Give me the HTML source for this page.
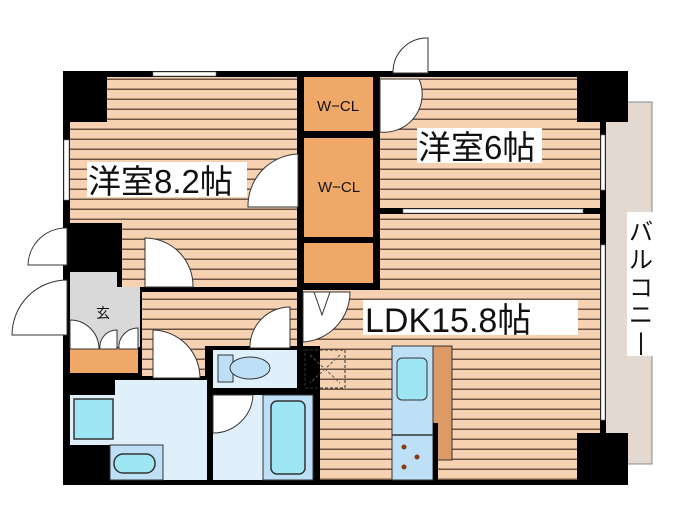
<!DOCTYPE html>
<html><head><meta charset="utf-8"><style>
body{margin:0;background:#fff;width:700px;height:525px;overflow:hidden}
svg{display:block}
text{font-family:"Liberation Sans","Noto Sans CJK JP",sans-serif;fill:#111}
</style></head><body>
<svg width="700" height="525" viewBox="0 0 700 525" xmlns="http://www.w3.org/2000/svg">
<defs>
<pattern id="fl" width="10" height="10" patternUnits="userSpaceOnUse">
<rect width="10" height="10" fill="#f6d2b2"/><rect y="8.5" width="10" height="1.5" fill="#6e5546"/>
</pattern>
</defs>
<!-- balcony -->
<rect x="604" y="102" width="48" height="362" fill="#e3d9d1" stroke="#888" stroke-width="1"/>
<rect x="627" y="212" width="29" height="144" fill="#fff"/>
<text font-size="24" text-anchor="middle"><tspan x="641" y="240">バ</tspan><tspan x="641" y="268">ル</tspan><tspan x="641" y="296">コ</tspan><tspan x="641" y="323">ニ</tspan><tspan x="641" y="350">|</tspan></text>
<!-- outer wall base -->
<rect x="63" y="71" width="543" height="414" fill="#000"/>
<!-- floors -->
<rect x="107" y="77" width="190" height="146" fill="url(#fl)"/>
<rect x="70" y="122" width="227" height="101" fill="url(#fl)"/>
<rect x="122" y="222" width="175" height="65" fill="url(#fl)"/>
<rect x="142" y="292" width="155" height="54" fill="url(#fl)"/>
<rect x="142" y="346" width="63" height="30" fill="url(#fl)"/>
<rect x="303" y="290" width="297" height="56" fill="url(#fl)"/>
<rect x="320" y="346" width="280" height="87" fill="url(#fl)"/>
<rect x="320" y="433" width="257" height="47" fill="url(#fl)"/>
<rect x="380" y="77" width="197" height="131" fill="url(#fl)"/>
<rect x="380" y="122" width="220" height="86" fill="url(#fl)"/>
<rect x="380" y="214" width="220" height="76" fill="url(#fl)"/>
<!-- closets -->
<rect x="304" y="77" width="69" height="54" fill="#f0a868"/>
<rect x="304" y="138" width="69" height="99" fill="#f0a868"/>
<rect x="304" y="243" width="69" height="40" fill="#f0a868"/>
<text x="338" y="111" font-size="15" text-anchor="middle">W−CL</text>
<text x="339" y="192" font-size="15" text-anchor="middle">W−CL</text>
<!-- entry -->
<rect x="70" y="272" width="47" height="75" fill="#d9d9d9"/>
<rect x="117" y="287" width="23" height="60" fill="#d9d9d9"/>
<text x="103" y="318" font-size="14" text-anchor="middle">玄</text>
<rect x="70" y="348" width="68" height="25" fill="#f0a868"/>
<!-- washroom -->
<rect x="115" y="380" width="92" height="100" fill="#dff0fb"/>
<rect x="70" y="395" width="45" height="50" fill="#dff0fb"/>
<rect x="74" y="399" width="39" height="40" fill="#9ee6f3" stroke="#333" stroke-width="1.5"/>
<rect x="110" y="445" width="53" height="35" fill="#bde0f7" stroke="#333"/>
<rect x="114" y="454" width="41" height="19" rx="9" fill="#9ee6f3" stroke="#333" stroke-width="1.5"/>
<!-- toilet -->
<rect x="213" y="350" width="84" height="38" fill="#dff0fb"/>
<rect x="218" y="355" width="15" height="27" fill="#bde0f7" stroke="#333"/>
<ellipse cx="250" cy="368" rx="20" ry="11" fill="#bde0f7" stroke="#333"/>
<!-- bath -->
<rect x="213" y="395" width="100" height="85" fill="#dff0fb"/>
<rect x="263" y="395" width="50" height="85" fill="#bde0f7" stroke="#333"/>
<rect x="271" y="401" width="34" height="73" rx="6" fill="#9ee6f3" stroke="#333" stroke-width="1.5"/>
<path d="M213 433 A40 40 0 0 0 253 395 L213 395 Z" fill="#fff" stroke="#333"/>
<!-- hatch -->
<rect x="305" y="350" width="40" height="38" fill="none" stroke="#333" stroke-dasharray="3,2"/>
<path d="M310 355 L340 383 M340 355 L310 383" stroke="#555" stroke-dasharray="3,2"/>
<!-- kitchen -->
<rect x="392" y="346" width="41" height="134" fill="#bde0f7" stroke="#333"/>
<line x1="392" y1="435" x2="433" y2="435" stroke="#333" stroke-width="1.5"/>
<rect x="397" y="358" width="30" height="42" rx="5" fill="#9ee6f3" stroke="#333"/>
<circle cx="404" cy="447" r="2.5" fill="#8a3a10"/><circle cx="417" cy="457" r="2.5" fill="#8a3a10"/><circle cx="404" cy="467" r="2.5" fill="#8a3a10"/>
<rect x="433" y="346" width="19" height="114" fill="#db9a66" stroke="#333"/>
<rect x="433" y="423" width="5" height="57" fill="#000"/>
<!-- corners -->
<rect x="577" y="71" width="51" height="51" fill="#000"/>
<rect x="577" y="433" width="51" height="52" fill="#000"/>
<!-- windows -->
<rect x="153" y="72" width="63" height="4" fill="#fff" stroke="#777" stroke-width="0.6"/>
<rect x="64" y="140" width="5" height="60" fill="#fff" stroke="#777" stroke-width="0.6"/>
<rect x="601" y="135" width="4" height="55" fill="#fff" stroke="#777" stroke-width="0.6"/>
<rect x="601" y="245" width="4" height="175" fill="#fff" stroke="#777" stroke-width="0.6"/>
<rect x="403" y="209" width="180" height="4" fill="#fff" stroke="#777" stroke-width="0.6"/>
<!-- doors -->
<path d="M393 73 L393 72 A34 34 0 0 1 428 38 L428 73 Z" fill="#fff" stroke="#333"/>
<path d="M380 79 L419 79 A38 38 0 0 1 380 132 Z" fill="#fff" stroke="#333"/>
<path d="M298 154 L298 207 L248 207 A52 52 0 0 1 298 154 Z" fill="#fff" stroke="#333"/>
<path d="M145 238 L145 287 L193 287 A48 48 0 0 0 145 238 Z" fill="#fff" stroke="#333"/>
<path d="M67 228 L67 265 L28 265 A38 38 0 0 1 67 228 Z" fill="#fff" stroke="#333"/>
<path d="M67 280 L67 335 L12 335 A55 55 0 0 1 67 280 Z" fill="#fff" stroke="#333"/>
<path d="M70 320 A29 29 0 0 1 99 349 L70 349 Z M100 349 A17 17 0 0 1 117 330 L117 349 Z M119 349 A19 19 0 0 1 138 328 L138 349 Z" fill="#fff" stroke="#333"/>
<path d="M153 330 L153 378 L200 378 A48 48 0 0 0 153 330 Z" fill="#fff" stroke="#333"/>
<path d="M290 307 L290 348 L250 348 A40 40 0 0 1 290 307 Z" fill="#fff" stroke="#333"/>
<path d="M303 292 L303 342 A50 50 0 0 0 350 292 Z" fill="#fff" stroke="#333"/>
<path d="M314 292 L322 315 L330 292" fill="none" stroke="#333"/>
<!-- labels -->
<rect x="87" y="162" width="160" height="35" fill="#fff"/>
<text x="88" y="193" font-size="33">洋室8.2帖</text>
<rect x="417" y="128" width="125" height="35" fill="#fff"/>
<text x="418" y="159" font-size="33">洋室6帖</text>
<rect x="363" y="300" width="215" height="35" fill="#fff"/>
<text x="365" y="332" font-size="34">LDK15.8帖</text>
</svg>
</body></html>
